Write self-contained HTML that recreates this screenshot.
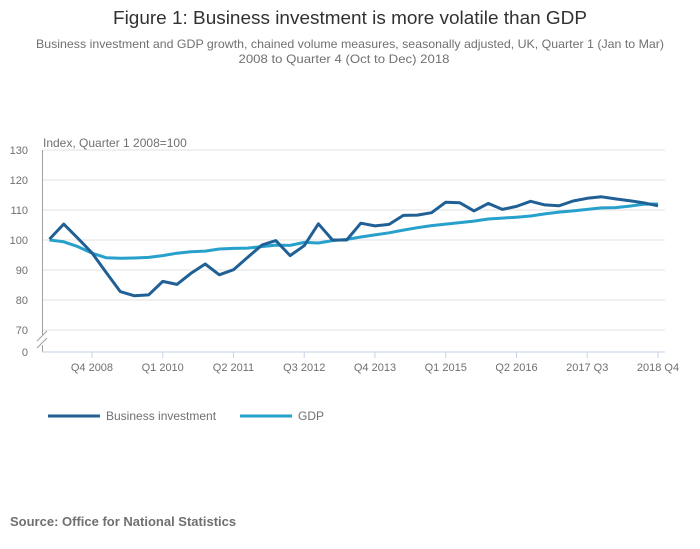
<!DOCTYPE html>
<html><head><meta charset="utf-8"><style>
body{margin:0;background:#fff;font-family:"Liberation Sans",sans-serif;}
svg{display:block}
</style></head><body>
<svg width="700" height="549" viewBox="0 0 700 549">
<text x="350" y="24" text-anchor="middle" font-size="18" fill="#323132" textLength="474" lengthAdjust="spacingAndGlyphs">Figure 1: Business investment is more volatile than GDP</text>
<text x="350" y="48" text-anchor="middle" font-size="12" fill="#707071" textLength="628" lengthAdjust="spacingAndGlyphs">Business investment and GDP growth, chained volume measures, seasonally adjusted, UK, Quarter 1 (Jan to Mar)</text>
<text x="344" y="63" text-anchor="middle" font-size="12" fill="#707071" textLength="211" lengthAdjust="spacingAndGlyphs">2008 to Quarter 4 (Oct to Dec) 2018</text>
<text x="43" y="147" font-size="12" fill="#707071">Index, Quarter 1 2008=100</text>
<g id="grid"></g>
<g id="axes"></g>
<g id="series"></g>
<g>
<line x1="48" y1="416" x2="100" y2="416" stroke="#206095" stroke-width="3"/>
<text x="106" y="420" font-size="12" fill="#707071">Business investment</text>
<line x1="240" y1="416" x2="292" y2="416" stroke="#27a0cc" stroke-width="3"/>
<text x="298" y="420" font-size="12" fill="#707071">GDP</text>
</g>
<text x="10" y="526" font-size="13" font-weight="bold" fill="#707071">Source: Office for National Statistics</text>
</svg>
<script>
const yTicks=[70,80,90,100,110,120,130];
const xTickIdx=[3,8,13,18,23,28,33,38,43];
const xTickLabels=["Q4 2008","Q1 2010","Q2 2011","Q3 2012","Q4 2013","Q1 2015","Q2 2016","2017 Q3","2018 Q4"];
const businessInvestment=[100.3,105.3,100.6,95.7,89.2,82.8,81.4,81.7,86.2,85.2,88.9,92.0,88.4,90.1,94.2,98.3,99.8,94.8,98.1,105.4,100,100,105.6,104.7,105.2,108.2,108.3,109.1,112.6,112.4,109.7,112.2,110.2,111.2,112.9,111.7,111.4,113,113.9,114.4,113.7,113.1,112.4,111.4];
const gdp=[100,99.4,97.8,95.6,94.1,93.9,94.0,94.2,94.8,95.6,96.1,96.3,97.0,97.2,97.3,97.8,98.3,98.2,99.2,99.0,99.8,100.2,101.0,101.7,102.4,103.3,104.1,104.8,105.3,105.8,106.3,107.0,107.3,107.6,108.0,108.7,109.3,109.7,110.2,110.7,110.8,111.3,111.9,112.0];
const NS="http://www.w3.org/2000/svg";
const x=i=>49.5+i*(608.5/43);
const y=v=>240-(v-100)*3;
function mk(tag,attrs,parent,txt){const e=document.createElementNS(NS,tag);for(const k in attrs)e.setAttribute(k,attrs[k]);if(txt!==undefined)e.textContent=txt;parent.appendChild(e);return e;}
const grid=document.getElementById('grid'),axes=document.getElementById('axes'),series=document.getElementById('series');
yTicks.forEach(t=>{
 const l=mk('line',{x1:43,x2:665,y1:y(t),y2:y(t),stroke:'#e0e0e0','stroke-width':1},grid);
 
 
 const tx=mk('text',{x:28,y:y(t)+4,'text-anchor':'end','font-size':11,fill:'#707071'},axes,String(t));
 
 
});
const z=mk('text',{x:28,y:356,'text-anchor':'end','font-size':11,fill:'#707071'},axes,'0');


const ya=mk('path',{d:'M42.5 150 V335 M42.5 345 V352',stroke:'#a0a0a0',fill:'none'},axes);


const br=mk('path',{d:'M37 341 L47 331 M37 348 L47 338',stroke:'#a0a0a0',fill:'none'},axes);


const xa=mk('line',{x1:42,x2:665,y1:352,y2:352,stroke:'#c6d2e6'},axes);


xTickIdx.forEach((i,k)=>{
 const t=mk('line',{x1:x(i),x2:x(i),y1:352,y2:358,stroke:'#c6d2e6'},axes);
 
 
 const tx=mk('text',{x:x(i),y:371,'text-anchor':'middle','font-size':11,fill:'#707071'},axes,xTickLabels[k]);
 
 
});
function line(vals,color,name){
 const d=vals.map((v,i)=>(i?'L':'M')+x(i).toFixed(1)+' '+y(v).toFixed(1)).join(' ');
 const p=mk('path',{d:d,stroke:color,'stroke-width':3,fill:'none','stroke-linejoin':'round'},series);
 
 
}
line(gdp,'#27a0cc','gdp-line');
line(businessInvestment,'#206095','business-investment-line');
</script>
</body></html>
